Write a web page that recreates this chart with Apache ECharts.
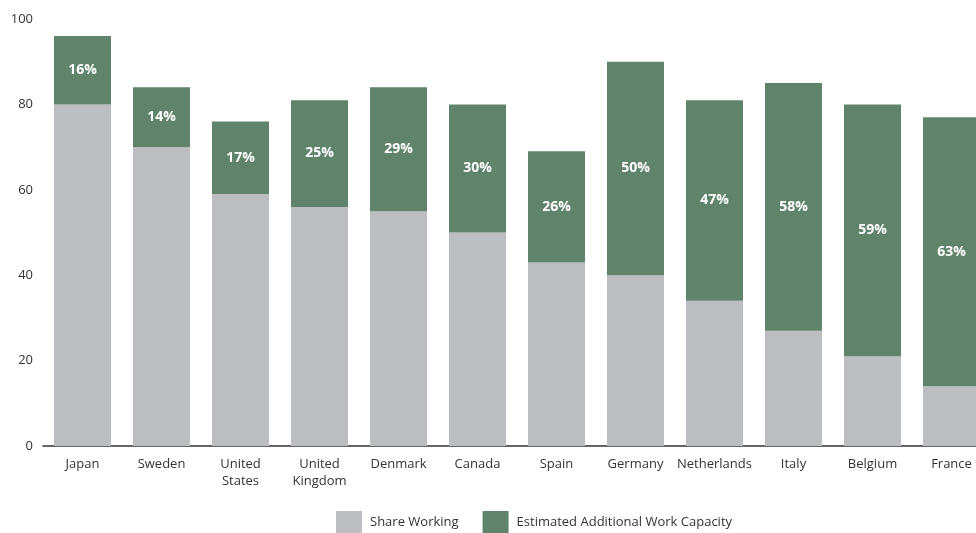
<!DOCTYPE html>
<html>
<head>
<meta charset="utf-8">
<script src="https://cdn.jsdelivr.net/npm/echarts@6/dist/echarts.min.js"></script>
<style>html,body{margin:0;padding:0;background:#fff;overflow:hidden;width:976px;height:533px}#c{width:991px;height:533px}</style>
</head>
<body>
<div id="c"></div>
<script>
var categories = ['Japan','Sweden','United\nStates','United\nKingdom','Denmark','Canada','Spain','Germany','Netherlands','Italy','Belgium','France'];
var shareWorking = [80,70,59,56,55,50,43,40,34,27,21,14];
var additionalCapacity = [16,14,17,25,29,30,26,50,47,58,59,63];
var yTicks = [0,20,40,60,80,100];

var FONT = '"Open Sans", Lato, sans-serif';
var chart = echarts.init(document.getElementById('c'));
chart.setOption({
  animation: false,
  textStyle: {fontFamily: FONT},
  grid: {left: 43, top: 19, right: 0, bottom: 87, containLabel: false},
  legend: {
    top: 506, left: 331, itemWidth: 26, itemHeight: 22, itemGap: 24,
    icon: 'rect',
    textStyle: {fontFamily: FONT, fontSize: 13, color: '#333', padding: [0,0,0,3]},
    data: ['Share Working','Estimated Additional Work Capacity']
  },
  xAxis: {
    type: 'category', data: categories,
    axisLine: {lineStyle: {color: '#333', width: 1.5}},
    axisTick: {show: false},
    axisLabel: {fontFamily: FONT, fontSize: 13, color: '#333', margin: 10, lineHeight: 17, interval: 0}
  },
  yAxis: {
    type: 'value', min: yTicks[0], max: yTicks[yTicks.length-1], interval: 20,
    splitLine: {show: false},
    axisLine: {show: false}, axisTick: {show: false},
    axisLabel: {fontFamily: FONT, fontSize: 13, color: '#333', margin: 10}
  },
  series: [
    {
      name: 'Share Working', type: 'bar', stack: 'a', data: shareWorking,
      barWidth: 57, itemStyle: {color: '#bcbdc0'}
    },
    {
      name: 'Estimated Additional Work Capacity', type: 'bar', stack: 'a', data: additionalCapacity,
      barWidth: 57, itemStyle: {color: '#5f846b'},
      label: {show: true, position: 'inside', formatter: '{c}%', color: '#fff', fontWeight: 'bold', fontSize: 14, fontFamily: FONT}
    }
  ]
});
</script>
</body>
</html>
